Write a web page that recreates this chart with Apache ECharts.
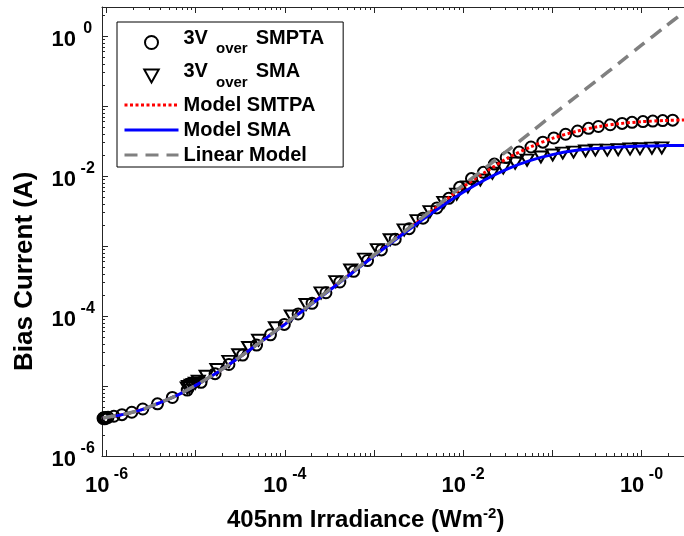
<!DOCTYPE html>
<html><head><meta charset="utf-8">
<script src="https://cdn.jsdelivr.net/npm/echarts@6/dist/echarts.min.js"></script>
<style>html,body{margin:0;padding:0;background:#fff}#c{width:684px;height:536px}</style>
</head><body><div id="c"></div>
<script>
// ---- data ----
const smptaE = [9.14e-7,9.3e-7,9.5e-7,9.7e-7,9.9e-7,1.04e-6,1.21e-6,1.49e-6,1.92e-6,2.55e-6,3.73e-6,5.48e-6,8.05e-6,1.15e-5,1.65e-5,2.36e-5,3.37e-5,4.82e-5,6.9e-5,9.87e-5,1.41e-4,2.02e-4,2.89e-4,4.14e-4,5.92e-4,8.47e-4,1.21e-3,1.73e-3,2.48e-3,3.55e-3,5.08e-3,6.9e-3,9.14e-3,1.24e-2,1.69e-2,2.24e-2,3.04e-2,4.24e-2,5.77e-2,7.84e-2,0.104,0.141,0.192,0.255,0.329,0.447,0.607,0.784,1.04,1.34,1.73,2.24];
const smptaI = [3.45e-6,3.52e-6,3.4e-6,3.55e-6,3.48e-6,3.57e-6,3.7e-6,3.9e-6,4.22e-6,4.69e-6,5.56e-6,6.86e-6,8.76e-6,1.13e-5,1.5e-5,2.03e-5,2.77e-5,3.85e-5,5.39e-5,7.58e-5,1.07e-4,1.52e-4,2.15e-4,3.06e-4,4.35e-4,6.2e-4,8.8e-4,1.25e-3,1.77e-3,2.5e-3,3.5e-3,4.8e-3,6.9e-3,9.2e-3,1.13e-2,1.48e-2,1.84e-2,2.2e-2,2.6e-2,3.05e-2,3.5e-2,3.95e-2,4.4e-2,4.8e-2,5.1e-2,5.4e-2,5.65e-2,5.85e-2,6.0e-2,6.1e-2,6.2e-2,6.28e-2];
const smaE = [8.05e-6,8.3e-6,8.5e-6,8.9e-6,9.4e-6,9.9e-6,1.07e-5,1.31e-5,1.73e-5,2.36e-5,3.04e-5,3.93e-5,5.08e-5,7.84e-5,1.18e-4,1.73e-4,2.55e-4,3.73e-4,5.48e-4,7.84e-4,1.09e-3,1.52e-3,2.18e-3,3.04e-3,4.25e-3,6.07e-3,8.47e-3,1.13e-2,1.56e-2,2.13e-2,2.82e-2,3.83e-2,5.21e-2,7.45e-2,0.101,0.131,0.173,0.236,0.304,0.414,0.548,0.745,0.962,1.31,1.69];
const smaI = [9.4e-6,9.9e-6,9.6e-6,1.03e-5,1.05e-5,1.1e-5,1.17e-5,1.38e-5,1.72e-5,2.25e-5,2.8e-5,3.55e-5,4.5e-5,6.8e-5,1.0e-4,1.46e-4,2.14e-4,3.1e-4,4.55e-4,6.5e-4,8.9e-4,1.23e-3,1.7e-3,2.3e-3,3.1e-3,4.2e-3,5.5e-3,6.97e-3,8.77e-3,1.1e-2,1.3e-2,1.53e-2,1.69e-2,1.87e-2,2.0e-2,2.13e-2,2.2e-2,2.28e-2,2.35e-2,2.35e-2,2.38e-2,2.43e-2,2.45e-2,2.5e-2,2.52e-2];
const modelE = [9.1e-7,1.5e-6,2.5e-6,4e-6,6.5e-6,1e-5,1.8e-5,3e-5,5e-5,1e-4,3e-4,1e-3,3e-3,5.6e-3,1e-2,1.8e-2,3.2e-2,5.6e-2,0.1,0.18,0.32,0.56,1,1.8,3];
const modelSmtpaI = [3.5e-6,3.9e-6,4.6e-6,5.8e-6,7.6e-6,1.02e-5,1.6e-5,2.5e-5,4.0e-5,7.7e-5,2.24e-4,7.3e-4,2.15e-3,4.0e-3,7.0e-3,1.15e-2,1.82e-2,2.58e-2,3.45e-2,4.3e-2,5.05e-2,5.6e-2,5.97e-2,6.2e-2,6.32e-2];
const modelSmaI = [3.5e-6,3.9e-6,4.6e-6,5.8e-6,7.6e-6,1.02e-5,1.6e-5,2.5e-5,4.0e-5,7.6e-5,2.2e-4,7.2e-4,2.06e-3,3.6e-3,5.85e-3,9.0e-3,1.28e-2,1.66e-2,2.02e-2,2.31e-2,2.48e-2,2.6e-2,2.68e-2,2.72e-2,2.74e-2];
const linearI = [3.5e-6,3.9e-6,4.6e-6,5.8e-6,7.6e-6,1.02e-5,1.6e-5,2.5e-5,4.0e-5,7.7e-5,2.25e-4,7.4e-4,2.2e-3,4.1e-3,7.4e-3,1.33e-2,2.35e-2,4.1e-2,7.4e-2,0.133,0.235,0.41,0.74,1.33,2.2];

const seriesNames = ['3V over SMPTA','3V over SMA','Model SMTPA','Model SMA','Linear Model'];
const xLabelValues = [1e-6,1e-4,1e-2,1];
const xTickLabels = ['-6','-4','-2','-0'];
const yLabelValues = [1e-6,1e-4,1e-2,1];
const yTickLabels = ['-6','-4','-2','0'];
const X_MIN = 8.9e-7, X_MAX = 3, Y_MIN = 1e-6, Y_MAX = 2.6;

// decade / minor tick positions (axis furniture)
const majorTicks = [], minorTicks = [];
for (let d = -7; d <= 0; d++) {
  majorTicks.push(Math.pow(10, d));
  for (let k = 2; k <= 9; k++) minorTicks.push(k * Math.pow(10, d));
}

const FONT = 'Liberation Sans';
const AX = '#262626';
const labelRich = {
  b: {fontFamily: FONT, fontWeight: 'bold', fontSize: 22, color: '#000', padding: [8, 0, 0, 0]},
  s: {fontFamily: FONT, fontWeight: 'bold', fontSize: 16, color: '#000', padding: [0, 0, 14, 0]},
  sy: {fontFamily: FONT, fontWeight: 'bold', fontSize: 16, color: '#000', padding: [0, 0, 14, 0], width: 19, align: 'left'}
};
function labelFmt(values, labels, sup) {
  return function (v) {
    for (let i = 0; i < values.length; i++) {
      if (Math.abs(Math.log10(v) - Math.log10(values[i])) < 1e-6) return '{b|10}{' + sup + '| ' + labels[i] + '}';
    }
    return '';
  };
}
function xAx(pos, major, labels) {
  return {
    type: 'log', logBase: 10, position: pos, min: X_MIN, max: X_MAX, gridIndex: 0,
    axisLine: {show: major, lineStyle: {color: AX, width: 1}},
    axisTick: {show: true, inside: true, length: major ? 6 : 3, lineStyle: {color: AX, width: 1},
      customValues: major ? majorTicks : minorTicks},
    minorTick: {show: false}, splitLine: {show: false},
    axisLabel: labels ? {show: true, customValues: xLabelValues, formatter: labelFmt(xLabelValues, xTickLabels, 's'),
      rich: labelRich, margin: 11, hideOverlap: false} : {show: false}
  };
}
function yAx(pos, major, labels) {
  return {
    type: 'log', logBase: 10, position: pos, min: Y_MIN, max: Y_MAX, gridIndex: 0,
    axisLine: {show: major, lineStyle: {color: AX, width: 1}},
    axisTick: {show: true, inside: true, length: major ? 6 : 3, lineStyle: {color: AX, width: 1},
      customValues: major ? majorTicks : minorTicks},
    minorTick: {show: false}, splitLine: {show: false},
    axisLabel: labels ? {show: true, customValues: yLabelValues, formatter: labelFmt(yLabelValues, yTickLabels, 'sy'),
      rich: labelRich, margin: 7, hideOverlap: false} : {show: false}
  };
}

const xTitle = '{t|405nm Irradiance (Wm}{s|-2}{t|)}';
const legendRich = {
  n: {fontFamily: FONT, fontWeight: 'bold', fontSize: 20, color: '#000', padding: [0, 0, 9, 0]},
  sp: {fontFamily: FONT, fontWeight: 'bold', fontSize: 20, color: '#000', width: 8},
  sub: {fontFamily: FONT, fontWeight: 'bold', fontSize: 15, color: '#000', padding: [13, 0, 0, 0]},
  m: {fontFamily: FONT, fontWeight: 'bold', fontSize: 20, color: '#000'}
};
const hidden = {color: 'rgba(0,0,0,0)', borderColor: 'rgba(0,0,0,0)', borderWidth: 0};

const chart = echarts.init(document.getElementById('c'), null, {renderer: 'canvas'});
chart.setOption({
  animation: false,
  backgroundColor: '#fff',
  grid: {left: 102, top: 7, width: 587, height: 449, containLabel: false},
  xAxis: [xAx('bottom', true, true), xAx('bottom', false, false), xAx('top', true, false), xAx('top', false, false)],
  yAxis: [yAx('left', true, true), yAx('left', false, false)],
  legend: {
    orient: 'vertical', left: 117, top: 22, itemWidth: 54, itemHeight: 13, itemGap: 5,
    padding: [6, 19, 2, 6], borderColor: '#000', borderWidth: 1, backgroundColor: '#fff',
    selectedMode: false, lineStyle: {width: 3},
    data: [
      {name: seriesNames[0]}, {name: seriesNames[1]},
      {name: seriesNames[2], itemStyle: hidden}, {name: seriesNames[3], itemStyle: hidden},
      {name: seriesNames[4], itemStyle: hidden}
    ],
    textStyle: {rich: legendRich},
    formatter: function (name) {
      if (name.indexOf('3V over ') === 0) return '{n|3V}{sp| }{sub|over}{sp| }{n|' + name.slice(8) + '}';
      return '{m|' + name + '}';
    }
  },
  graphic: [
    {type: 'text', left: 227, top: 506, style: {text: xTitle, rich: {
      t: {fontFamily: FONT, fontWeight: 'bold', fontSize: 24, color: '#000'},
      s: {fontFamily: FONT, fontWeight: 'bold', fontSize: 15, color: '#000', padding: [0, 0, 14, 0]}}}},
    {type: 'text', rotation: Math.PI / 2, x: 12, y: 371, style: {text: 'Bias Current (A)',
      fontFamily: FONT, fontWeight: 'bold', fontSize: 26, fill: '#000'}}
  ],
  series: [
    {name: seriesNames[0], type: 'scatter', data: smptaE.map((e, i) => [e, smptaI[i]]),
      symbol: 'circle', symbolSize: 11, itemStyle: {color: 'rgba(255,255,255,0)', borderColor: '#000', borderWidth: 2, opacity: 1}, z: 2},
    {name: seriesNames[1], type: 'scatter', data: smaE.map((e, i) => [e, smaI[i]]),
      symbol: 'path://M0,0 L10,0 L5,9 Z', symbolSize: [13, 11],
      itemStyle: {color: 'rgba(255,255,255,0)', borderColor: '#000', borderWidth: 2, opacity: 1}, z: 2},
    {name: seriesNames[2], type: 'line', data: modelE.map((e, i) => [e, modelSmtpaI[i]]), symbol: 'none', smooth: 0.3,
      lineStyle: {color: '#ff0000', width: 3, type: [3, 2.5], cap: 'butt'}, itemStyle: {color: '#ff0000'}, z: 3},
    {name: seriesNames[3], type: 'line', data: modelE.map((e, i) => [e, modelSmaI[i]]), symbol: 'none', smooth: 0.3,
      lineStyle: {color: '#0000ff', width: 3}, itemStyle: {color: '#0000ff'}, z: 4},
    {name: seriesNames[4], type: 'line', data: modelE.map((e, i) => [e, linearI[i]]), symbol: 'none', smooth: 0.3,
      lineStyle: {color: '#808080', width: 3.5, type: [13, 8], cap: 'butt'}, itemStyle: {color: '#808080'}, z: 5}
  ]
});
</script></body></html>
